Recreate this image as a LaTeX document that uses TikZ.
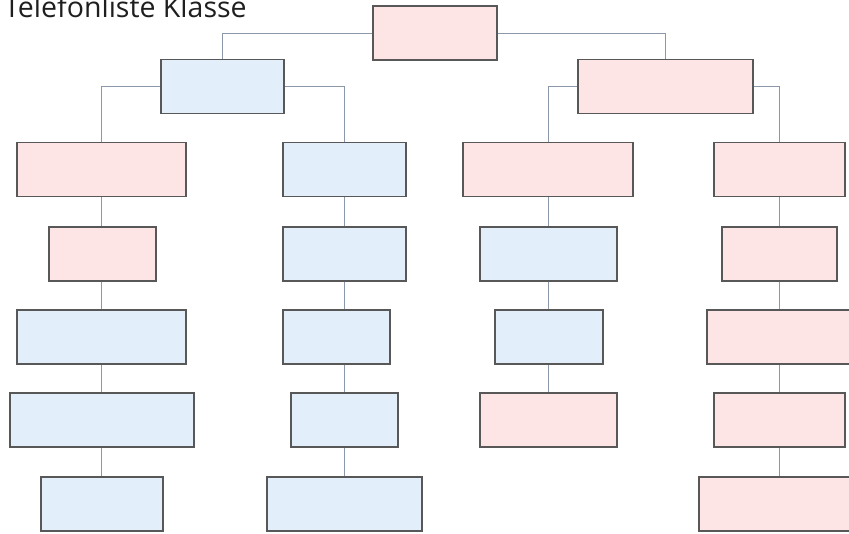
\documentclass[tikz,border=0pt]{standalone}
\usepackage{fontspec}
\setmainfont{Open Sans}
\usepackage{xcolor}
\usepackage{tikz}
\usetikzlibrary{positioning, calc}

\definecolor{pinkfill}{RGB}{253,229,229}
\definecolor{bluefill}{RGB}{227,238,251}
\definecolor{framegray}{RGB}{88,88,88}
\definecolor{wire}{RGB}{138,152,170}

\begin{document}
\begin{tikzpicture}[x=1pt, y=-1pt,
  box/.style={draw=framegray, line width=1.6pt, minimum height=54pt, inner sep=0pt},
  pinkbox/.style={box, fill=pinkfill},
  bluebox/.style={box, fill=bluefill},
  link/.style={draw=wire, line width=0.8pt}]
\useasboundingbox (0,0) rectangle (849,533);

\node[anchor=base west, text=black!88, font=\fontsize{28.5}{32}\selectfont, inner sep=0pt]
  (title) at (4,17) {Telefonliste Klasse};

% top two levels
\node[pinkbox, minimum width=124pt] (root) at (435,33) {};
\node[bluebox, minimum width=123pt] (left) at (222.5,86.5) {};
\node[pinkbox, minimum width=175pt] (right) at (665.5,86.5) {};

% column a
\node[pinkbox, minimum width=169pt] (a1) at (101.5,169.5) {};
\node[pinkbox, minimum width=107pt] (a2) at (102.5,254) {};
\node[bluebox, minimum width=169pt] (a3) at (101.5,337) {};
\node[bluebox, minimum width=184pt] (a4) at (102,420) {};
\node[bluebox, minimum width=122pt] (a5) at (102,504) {};

% column b
\node[bluebox, minimum width=123pt] (b1) at (344.5,169.5) {};
\node[bluebox, minimum width=123pt] (b2) at (344.5,254) {};
\node[bluebox, minimum width=107pt] (b3) at (336.5,337) {};
\node[bluebox, minimum width=107pt] (b4) at (344.5,420) {};
\node[bluebox, minimum width=155pt] (b5) at (344.5,504) {};

% column c
\node[pinkbox, minimum width=170pt] (c1) at (548,169.5) {};
\node[bluebox, minimum width=137pt] (c2) at (548.5,254) {};
\node[bluebox, minimum width=108pt] (c3) at (549,337) {};
\node[pinkbox, minimum width=137pt] (c4) at (548.5,420) {};

% column d
\node[pinkbox, minimum width=131pt] (d1) at (779.5,169.5) {};
\node[pinkbox, minimum width=115pt] (d2) at (779.5,254) {};
\node[pinkbox, minimum width=146pt] (d3) at (780,337) {};
\node[pinkbox, minimum width=131pt] (d4) at (779.5,420) {};
\node[pinkbox, minimum width=162pt] (d5) at (780,504) {};

% branches
\draw[link] (root.west) -| (left.north);
\draw[link] (root.east) -| (right.north);
\draw[link] (left.west) -| (a1.north);
\draw[link] (left.east) -| (b1.north);
\draw[link] (right.west) -| (c1.north);
\draw[link] (right.east) -| (d1.north);

% chains, kept on the line of the first box of each column
\foreach \col/\n in {a/5, b/5, c/4, d/5}{
  \foreach \i [evaluate=\i as \j using int(\i+1)] in {1,...,4}{
    \ifnum\i<\n
      \draw[link] (\col1.south |- \col\i.south) -- (\col1.south |- \col\j.north);
    \fi
  }
}
\end{tikzpicture}
\end{document}
